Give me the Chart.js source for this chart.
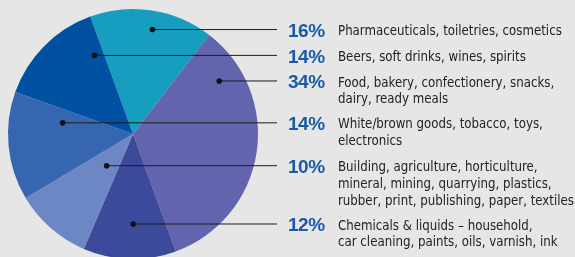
<!DOCTYPE html>
<html lang="en">
<head>
  <meta charset="UTF-8">
  <title>Market sectors</title>
  <script src="https://cdn.jsdelivr.net/npm/chart.js"></script>
  <style>
    html, body {
      margin: 0;
      padding: 0;
      background: #e6e6e6;
      overflow: hidden;
    }
    .chart-box {
      position: absolute;
      left: 0;
      top: 0;
      width: 575px;
      height: 268px;
    }
  </style>
</head>
<body>

  <div class="chart-box">
    <canvas id="sectorPie"></canvas>
  </div>

  <script>
    // slices in clockwise order, starting with the teal one at the top
    const sectors = ["Pharmaceuticals", "Food", "Chemicals", "Building", "White/brown goods", "Beers"];
    const shares = [16, 34, 12, 10, 14, 14];
    const sliceColors = ["#179dbf", "#6364ae", "#3c4a9c", "#6d86c4", "#3766b0", "#0051a2"];
    const labelLines = [
      ["Pharmaceuticals, toiletries, cosmetics"],
      ["Food, bakery, confectionery, snacks,", "dairy, ready meals"],
      ["Chemicals & liquids \u2013 household,", "car cleaning, paints, oils, varnish, ink"],
      ["Building, agriculture, horticulture,", "mineral, mining, quarrying, plastics,", "rubber, print, publishing, paper, textiles"],
      ["White/brown goods, tobacco, toys,", "electronics"],
      ["Beers, soft drinks, wines, spirits"]
    ];
    // where each leader dot sits inside its slice: [fraction along the arc, fraction of radius]
    const dotSpots = [[0.53, 0.85], [0.17, 0.81], [0.46, 0.72], [0.46, 0.33], [0.79, 0.57], [0.88, 0.70]];

    const bodyFont = '14px "Liberation Sans Narrow", "DejaVu Sans Condensed", "Liberation Sans", sans-serif';

    const leaderLabels = {
      id: 'leaderLabels',
      afterDatasetsDraw(chart) {
        const ctx = chart.ctx;
        const arcs = chart.getDatasetMeta(0).data;
        ctx.save();

        // squeeze the body text sideways so the widest line fits the right-hand column
        ctx.font = bodyFont;
        let widest = 0;
        labelLines.flat().forEach(line => {
          widest = Math.max(widest, ctx.measureText(line).width);
        });
        const squeeze = Math.min(1, 236 / widest);

        arcs.forEach((arc, i) => {
          const p = arc.getProps(['x', 'y', 'startAngle', 'endAngle', 'outerRadius'], true);
          const a = p.startAngle + dotSpots[i][0] * (p.endAngle - p.startAngle);
          const r = dotSpots[i][1] * p.outerRadius;
          const dx = p.x + Math.cos(a) * r;
          const dy = p.y + Math.sin(a) * r;

          ctx.strokeStyle = '#1c1c1c';
          ctx.lineWidth = 1;
          ctx.beginPath();
          ctx.moveTo(dx, dy);
          ctx.lineTo(277, dy);
          ctx.stroke();

          ctx.fillStyle = '#111';
          ctx.beginPath();
          ctx.arc(dx, dy, 2.8, 0, Math.PI * 2);
          ctx.fill();

          ctx.textBaseline = 'middle';
          ctx.fillStyle = '#1a5aa6';
          ctx.font = 'bold 19px "Liberation Sans", Arial, sans-serif';
          ctx.letterSpacing = '-0.5px';
          ctx.fillText(shares[i] + '%', 288, dy + 2);

          ctx.fillStyle = '#222';
          ctx.font = bodyFont;
          ctx.letterSpacing = '0px';
          labelLines[i].forEach((line, k) => {
            ctx.save();
            ctx.translate(338, dy + 2 + k * 16.7);
            ctx.scale(squeeze, 1);
            ctx.fillText(line, 0, 0);
            ctx.restore();
          });
        });
        ctx.restore();
      }
    };

    new Chart(document.getElementById('sectorPie'), {
      type: 'pie',
      data: {
        labels: sectors,
        datasets: [{
          data: shares,
          backgroundColor: sliceColors,
          borderWidth: 0,
          hoverOffset: 0
        }]
      },
      options: {
        responsive: true,
        maintainAspectRatio: false,
        animation: false,
        rotation: -20,
        events: [],
        layout: {
          padding: { left: 8, right: 317, top: 9, bottom: 9 }
        },
        plugins: {
          legend: { display: false },
          tooltip: { enabled: false }
        }
      },
      plugins: [leaderLabels]
    });
  </script>

</body>
</html>
